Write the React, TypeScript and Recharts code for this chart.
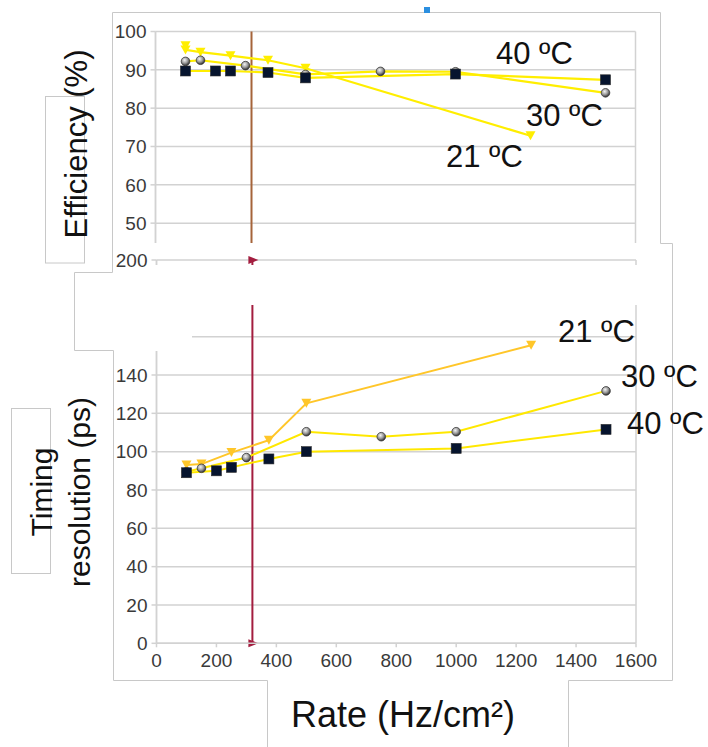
import React from "react";
import { LineChart, Line, XAxis, YAxis, CartesianGrid, ReferenceLine } from "recharts";

// efficiency (%) vs rate (Hz/cm²)
const effRate21 = [100, 100, 150, 250, 375, 500, 1250];
const eff21 = [96.3, 95.2, 94.6, 93.7, 92.5, 90.4, 72.8];
const effRate30 = [100, 150, 300, 500, 750, 1000, 1500];
const eff30 = [92.2, 92.5, 91.1, 88.8, 89.6, 89.5, 84.0];
const effRate40 = [100, 200, 250, 375, 500, 1000, 1500];
const eff40 = [89.7, 89.7, 89.7, 89.3, 87.9, 88.9, 87.4];

// timing resolution (ps) vs rate (Hz/cm²)
const timRate21 = [100, 150, 250, 375, 500, 1250];
const tim21 = [93, 93.5, 99.5, 106, 125.2, 155.5];
const timRate30 = [100, 150, 300, 500, 750, 1000, 1500];
const tim30 = [89.5, 91.3, 96.9, 110.4, 107.8, 110.4, 131.7];
const timRate40 = [100, 200, 250, 375, 500, 1000, 1500];
const tim40 = [89, 90, 91.8, 96.2, 100, 101.7, 111.6];

const rateTicks = [0, 200, 400, 600, 800, 1000, 1200, 1400, 1600];
const effTicks = [50, 60, 70, 80, 90, 100];
const timTicks = [0, 20, 40, 60, 80, 100, 120, 140, 160, 180, 200];
const hiddenTimLabels = [160, 180]; // covered in the source figure
const cutoffRate = 320;

const W = 708;
const H = 747;
const FONT = "'Liberation Sans', Arial, sans-serif";
const GRID = "#d2d2d2";
const tickStyle = { fontSize: 19, fill: "#3a3a3a", fontFamily: FONT };

const toPoints = (xs: number[], ys: number[]) => xs.map((x, i) => ({ x, y: ys[i] }));

function Tri({ cx, cy, fill }: any) {
  if (cx == null || cy == null) return null;
  return <polygon points={`${cx - 5},${cy - 4.5} ${cx + 5},${cy - 4.5} ${cx},${cy + 4.5}`} fill={fill} />;
}

function Sphere({ cx, cy, grad }: any) {
  if (cx == null || cy == null) return null;
  return <circle cx={cx} cy={cy} r={4.3} fill={`url(#${grad})`} stroke="#3a3a3a" strokeWidth={0.8} />;
}

function Square({ cx, cy }: any) {
  if (cx == null || cy == null) return null;
  return <rect x={cx - 5} y={cy - 5} width={10} height={10} fill="#06142e" stroke="#2a2a2a" strokeWidth={0.6} />;
}

function TimTick(props: any) {
  const { x, y, payload, textAnchor, fill, fontSize, fontFamily } = props;
  if (hiddenTimLabels.includes(payload.value)) return <g />;
  return (
    <text x={x} y={y} dy="0.355em" textAnchor={textAnchor} fill={fill} fontSize={fontSize} fontFamily={fontFamily}>
      {payload.value}
    </text>
  );
}

const borders = ({ offset }: any) => [offset.left, offset.left + offset.width];

function SphereGrad({ id }: { id: string }) {
  return (
    <defs>
      <radialGradient id={id} cx="40%" cy="35%" r="65%">
        <stop offset="0%" stopColor="#f4f4f4" />
        <stop offset="55%" stopColor="#9a9a9a" />
        <stop offset="100%" stopColor="#2e2e2e" />
      </radialGradient>
    </defs>
  );
}

function TopChart() {
  const yellow = "#ffee00";
  return (
    <LineChart width={W} height={420} margin={{ top: 31.5, right: 72.5, bottom: 5.2, left: 0 }}>
      <SphereGrad id="sphTop" />
      <CartesianGrid stroke={GRID} strokeWidth={1.5} verticalCoordinatesGenerator={borders} />
      <XAxis type="number" dataKey="x" domain={[0, 1600]} ticks={rateTicks} hide />
      <YAxis
        type="number"
        domain={[0, 100]}
        ticks={effTicks}
        interval={0}
        width={155.5}
        tick={tickStyle}
        tickSize={5}
        tickMargin={4}
        axisLine={{ stroke: GRID, strokeWidth: 1.5 }}
        tickLine={{ stroke: GRID, strokeWidth: 1.5 }}
      />
      <ReferenceLine x={cutoffRate} stroke="#a5643a" strokeWidth={2} />
      <Line data={toPoints(effRate21, eff21)} dataKey="y" stroke={yellow} strokeWidth={2.2} isAnimationActive={false}
        dot={(p: any) => <Tri key={`t${p.index}`} cx={p.cx} cy={p.cy} fill={yellow} />} activeDot={false} />
      <Line data={toPoints(effRate30, eff30)} dataKey="y" stroke={yellow} strokeWidth={2.2} isAnimationActive={false}
        dot={(p: any) => <Sphere key={`s${p.index}`} cx={p.cx} cy={p.cy} grad="sphTop" />} activeDot={false} />
      <Line data={toPoints(effRate40, eff40)} dataKey="y" stroke={yellow} strokeWidth={2.2} isAnimationActive={false}
        dot={(p: any) => <Square key={`q${p.index}`} cx={p.cx} cy={p.cy} />} activeDot={false} />
    </LineChart>
  );
}

function CutLine(props: any) {
  const { x1, y1, y2 } = props;
  const top = Math.min(y1, y2);
  const bot = Math.max(y1, y2);
  const c = "#a31d3f";
  const arrow = (y: number) => `${x1 - 4},${y - 4} ${x1 + 6},${y} ${x1 - 4},${y + 4}`;
  return (
    <g>
      <line x1={x1} y1={top} x2={x1} y2={bot} stroke={c} strokeWidth={2} />
      <polygon points={arrow(top)} fill={c} />
      <polygon points={arrow(bot)} fill={c} />
    </g>
  );
}

function BottomChart() {
  const yellow = "#ffe800";
  const amber = "#ffc629";
  return (
    <LineChart width={W} height={H} margin={{ top: 260, right: 72, bottom: 73.7, left: 0 }}>
      <SphereGrad id="sphBot" />
      <CartesianGrid stroke={GRID} strokeWidth={1.5} verticalCoordinatesGenerator={borders} />
      <XAxis
        type="number"
        dataKey="x"
        domain={[0, 1600]}
        ticks={rateTicks}
        interval={0}
        height={30}
        tick={tickStyle}
        tickSize={4}
        tickMargin={6}
        axisLine={{ stroke: GRID, strokeWidth: 1.5 }}
        tickLine={{ stroke: GRID, strokeWidth: 1.5 }}
      />
      <YAxis
        type="number"
        domain={[0, 200]}
        ticks={timTicks}
        interval={0}
        width={156.5}
        tick={<TimTick {...tickStyle} />}
        tickSize={5}
        tickMargin={4}
        axisLine={{ stroke: GRID, strokeWidth: 1.5 }}
        tickLine={{ stroke: GRID, strokeWidth: 1.5 }}
      />
      <ReferenceLine x={cutoffRate} shape={CutLine} />
      <Line data={toPoints(timRate21, tim21)} dataKey="y" stroke={amber} strokeWidth={2} isAnimationActive={false}
        dot={(p: any) => <Tri key={`t${p.index}`} cx={p.cx} cy={p.cy} fill={amber} />} activeDot={false} />
      <Line data={toPoints(timRate30, tim30)} dataKey="y" stroke={yellow} strokeWidth={2} isAnimationActive={false}
        dot={(p: any) => <Sphere key={`s${p.index}`} cx={p.cx} cy={p.cy} grad="sphBot" />} activeDot={false} />
      <Line data={toPoints(timRate40, tim40)} dataKey="y" stroke={yellow} strokeWidth={2} isAnimationActive={false}
        dot={(p: any) => <Square key={`q${p.index}`} cx={p.cx} cy={p.cy} />} activeDot={false} />
    </LineChart>
  );
}

export default function App() {
  const abs: React.CSSProperties = { position: "absolute", left: 0, top: 0 };
  return (
    <div style={{ ...abs, width: W, height: H, background: "#fff", overflow: "hidden", fontFamily: FONT }}>
      <svg width={W} height={H} style={abs}>
        <path
          d="M112.5 272.5 V12.5 H660.5 V243.5 H672.5 V680.5 H568.5 V747 M267.5 747 V680.5 H113.5 V350.5 H74.5 V272.5 H112.5"
          fill="none"
          stroke="#c8c8c8"
        />
        <rect x={45.5} y={96.5} width={39} height={166.5} fill="none" stroke="#c8c8c8" />
        <rect x={11.5} y={408.5} width={39} height={165} fill="none" stroke="#c8c8c8" />
        <rect x={424} y={7} width={6} height={6} fill="#2b8fe0" />
      </svg>
      <div style={{ ...abs, width: W, height: 243, overflow: "hidden" }}>
        <TopChart />
      </div>
      <div style={abs}>
        <BottomChart />
      </div>
      <div style={{ position: "absolute", left: 150, top: 265, width: 521, height: 40, background: "#fff" }} />
      <div style={{ position: "absolute", left: 114, top: 269, width: 78, height: 82, background: "#fff" }} />
      <svg width={W} height={H} style={abs}>
        <g fontFamily={FONT} fill="#111" fontSize={31}>
          <text x={496} y={64}>40 ºC</text>
          <text x={526} y={126}>30 ºC</text>
          <text x={446} y={167}>21 ºC</text>
          <text x={558} y={342}>21 ºC</text>
          <text x={621} y={387}>30 ºC</text>
          <text x={627} y={434}>40 ºC</text>
          <text transform="translate(87,144) rotate(-90)" textAnchor="middle">Efficiency (%)</text>
          <text transform="translate(52,492) rotate(-90)" textAnchor="middle" fontSize={30}>Timing</text>
          <text transform="translate(89.5,492) rotate(-90)" textAnchor="middle" fontSize={30}>resolution (ps)</text>
          <text x={403} y={727} textAnchor="middle" fontSize={36}>Rate (Hz/cm²)</text>
        </g>
      </svg>
    </div>
  );
}
